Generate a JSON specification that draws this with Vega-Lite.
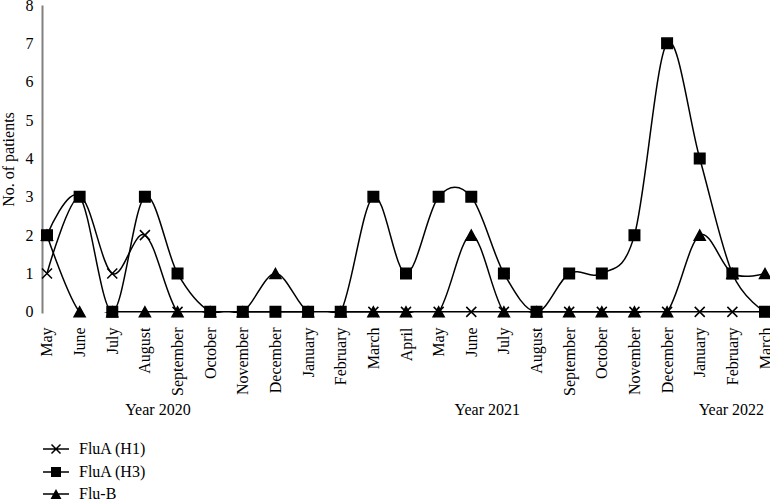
{
  "$schema": "https://vega.github.io/schema/vega-lite/v6.json",
  "width": 728,
  "height": 308,
  "autosize": {"type": "none"},
  "padding": {"left": 42, "top": 5, "right": 0, "bottom": 187},
  "config": {
    "font": "Liberation Serif",
    "view": {"stroke": null},
    "axis": {"labelFont": "Liberation Serif", "titleFont": "Liberation Serif", "labelColor": "black", "titleColor": "black", "grid": false, "ticks": false, "titleFontWeight": "normal"},
    "legend": {"labelFont": "Liberation Serif"}
  },
  "data": {
    "values": [
      {"period": "2020-05", "series": "FluA (H1)", "value": 1},
      {"period": "2020-06", "series": "FluA (H1)", "value": 3},
      {"period": "2020-07", "series": "FluA (H1)", "value": 1},
      {"period": "2020-08", "series": "FluA (H1)", "value": 2},
      {"period": "2020-09", "series": "FluA (H1)", "value": 0},
      {"period": "2020-10", "series": "FluA (H1)", "value": 0},
      {"period": "2020-11", "series": "FluA (H1)", "value": 0},
      {"period": "2020-12", "series": "FluA (H1)", "value": 0},
      {"period": "2021-01", "series": "FluA (H1)", "value": 0},
      {"period": "2021-02", "series": "FluA (H1)", "value": 0},
      {"period": "2021-03", "series": "FluA (H1)", "value": 0},
      {"period": "2021-04", "series": "FluA (H1)", "value": 0},
      {"period": "2021-05", "series": "FluA (H1)", "value": 0},
      {"period": "2021-06", "series": "FluA (H1)", "value": 0},
      {"period": "2021-07", "series": "FluA (H1)", "value": 0},
      {"period": "2021-08", "series": "FluA (H1)", "value": 0},
      {"period": "2021-09", "series": "FluA (H1)", "value": 0},
      {"period": "2021-10", "series": "FluA (H1)", "value": 0},
      {"period": "2021-11", "series": "FluA (H1)", "value": 0},
      {"period": "2021-12", "series": "FluA (H1)", "value": 0},
      {"period": "2022-01", "series": "FluA (H1)", "value": 0},
      {"period": "2022-02", "series": "FluA (H1)", "value": 0},
      {"period": "2022-03", "series": "FluA (H1)", "value": 0},
      {"period": "2020-05", "series": "FluA (H3)", "value": 2},
      {"period": "2020-06", "series": "FluA (H3)", "value": 3},
      {"period": "2020-07", "series": "FluA (H3)", "value": 0},
      {"period": "2020-08", "series": "FluA (H3)", "value": 3},
      {"period": "2020-09", "series": "FluA (H3)", "value": 1},
      {"period": "2020-10", "series": "FluA (H3)", "value": 0},
      {"period": "2020-11", "series": "FluA (H3)", "value": 0},
      {"period": "2020-12", "series": "FluA (H3)", "value": 0},
      {"period": "2021-01", "series": "FluA (H3)", "value": 0},
      {"period": "2021-02", "series": "FluA (H3)", "value": 0},
      {"period": "2021-03", "series": "FluA (H3)", "value": 3},
      {"period": "2021-04", "series": "FluA (H3)", "value": 1},
      {"period": "2021-05", "series": "FluA (H3)", "value": 3},
      {"period": "2021-06", "series": "FluA (H3)", "value": 3},
      {"period": "2021-07", "series": "FluA (H3)", "value": 1},
      {"period": "2021-08", "series": "FluA (H3)", "value": 0},
      {"period": "2021-09", "series": "FluA (H3)", "value": 1},
      {"period": "2021-10", "series": "FluA (H3)", "value": 1},
      {"period": "2021-11", "series": "FluA (H3)", "value": 2},
      {"period": "2021-12", "series": "FluA (H3)", "value": 7},
      {"period": "2022-01", "series": "FluA (H3)", "value": 4},
      {"period": "2022-02", "series": "FluA (H3)", "value": 1},
      {"period": "2022-03", "series": "FluA (H3)", "value": 0},
      {"period": "2020-05", "series": "Flu-B", "value": 2},
      {"period": "2020-06", "series": "Flu-B", "value": 0},
      {"period": "2020-07", "series": "Flu-B", "value": 0},
      {"period": "2020-08", "series": "Flu-B", "value": 0},
      {"period": "2020-09", "series": "Flu-B", "value": 0},
      {"period": "2020-10", "series": "Flu-B", "value": 0},
      {"period": "2020-11", "series": "Flu-B", "value": 0},
      {"period": "2020-12", "series": "Flu-B", "value": 1},
      {"period": "2021-01", "series": "Flu-B", "value": 0},
      {"period": "2021-02", "series": "Flu-B", "value": 0},
      {"period": "2021-03", "series": "Flu-B", "value": 0},
      {"period": "2021-04", "series": "Flu-B", "value": 0},
      {"period": "2021-05", "series": "Flu-B", "value": 0},
      {"period": "2021-06", "series": "Flu-B", "value": 2},
      {"period": "2021-07", "series": "Flu-B", "value": 0},
      {"period": "2021-08", "series": "Flu-B", "value": 0},
      {"period": "2021-09", "series": "Flu-B", "value": 0},
      {"period": "2021-10", "series": "Flu-B", "value": 0},
      {"period": "2021-11", "series": "Flu-B", "value": 0},
      {"period": "2021-12", "series": "Flu-B", "value": 0},
      {"period": "2022-01", "series": "Flu-B", "value": 2},
      {"period": "2022-02", "series": "Flu-B", "value": 1},
      {"period": "2022-03", "series": "Flu-B", "value": 1}
    ]
  },
  "encoding": {
    "x": {
      "field": "period",
      "type": "ordinal",
      "scale": {"type": "point", "padding": 0.153},
      "axis": {
        "title": null,
        "domain": false,
        "labelAngle": -90,
        "labelFontSize": 16,
        "labelPadding": 14,
        "labelExpr": "({'01':'January','02':'February','03':'March','04':'April','05':'May','06':'June','07':'July','08':'August','09':'September','10':'October','11':'November','12':'December'})[slice(datum.value, 5)]"
      }
    },
    "y": {
      "field": "value",
      "type": "quantitative",
      "scale": {"domain": [-0.03, 8], "nice": false, "zero": false},
      "axis": {
        "title": "No. of patients",
        "values": [0, 1, 2, 3, 4, 5, 6, 7, 8],
        "domainColor": "#808080",
        "domainWidth": 2,
        "labelFontSize": 16,
        "labelPadding": 9,
        "titleFontSize": 16,
        "titlePadding": 9
      }
    }
  },
  "layer": [
    {
      "mark": {"type": "line", "interpolate": "cardinal", "tension": 0, "clip": true, "color": "black", "strokeWidth": 1.5},
      "encoding": {"detail": {"field": "series"}}
    },
    {
      "mark": {"type": "point", "filled": true, "fill": "black", "stroke": "black", "strokeWidth": 1.5, "size": 100, "opacity": 1},
      "encoding": {
        "shape": {
          "field": "series",
          "scale": {
            "domain": ["FluA (H1)", "FluA (H3)", "Flu-B"],
            "range": ["M-1,-1L1,1M-1,1L1,-1", "M-1.05,-1.05H1.05V1.05H-1.05Z", "M0,-1L1.1,1L-1.1,1Z"]
          },
          "legend": null
        }
      }
    },
    {
      "transform": [{"filter": "datum.value < -100"}],
      "mark": {"type": "point", "filled": true, "color": "black", "size": 400},
      "encoding": {
        "shape": {
          "field": "series",
          "scale": {
            "domain": ["FluA (H1)", "FluA (H3)", "Flu-B"],
            "range": [
              "M-1.3,-0.075L1.3,-0.075L1.3,0.075L-1.3,0.075ZM-0.397,-0.503L0.503,0.397L0.397,0.503L-0.503,-0.397ZM-0.397,0.503L-0.503,0.397L0.397,-0.503L0.503,-0.397Z",
              "M-1.3,-0.075L1.3,-0.075L1.3,0.075L-1.3,0.075ZM-0.5,-0.5L0.5,-0.5L0.5,0.5L-0.5,0.5Z",
              "M-1.3,-0.075L1.3,-0.075L1.3,0.075L-1.3,0.075ZM0,-0.5L0.55,0.5L-0.55,0.5Z"
            ]
          },
          "legend": {
            "orient": "bottom",
            "direction": "vertical",
            "title": null,
            "symbolSize": 400,
            "symbolFillColor": "black",
            "symbolStrokeColor": "black",
            "symbolOpacity": 1,
            "symbolOffset": 3,
            "labelFontSize": 16,
            "labelColor": "black",
            "labelOffset": 12,
            "rowPadding": 3,
            "offset": 42
          }
        }
      }
    },
    {
      "transform": [{"filter": "datum.period == '2020-05' && datum.series == 'Flu-B'"}],
      "mark": {"type": "text", "fontSize": 16, "color": "black", "baseline": "middle", "dx": 13},
      "encoding": {"x": {"datum": "2020-08"}, "y": {"datum": -2.55}, "text": {"value": "Year 2020"}}
    },
    {
      "transform": [{"filter": "datum.period == '2020-05' && datum.series == 'Flu-B'"}],
      "mark": {"type": "text", "fontSize": 16, "color": "black", "baseline": "middle", "dx": 16},
      "encoding": {"x": {"datum": "2021-06"}, "y": {"datum": -2.55}, "text": {"value": "Year 2021"}}
    },
    {
      "transform": [{"filter": "datum.period == '2020-05' && datum.series == 'Flu-B'"}],
      "mark": {"type": "text", "fontSize": 16, "color": "black", "baseline": "middle", "dx": -1},
      "encoding": {"x": {"datum": "2022-02"}, "y": {"datum": -2.55}, "text": {"value": "Year 2022"}}
    }
  ],
  "resolve": {"scale": {"shape": "independent"}}
}
